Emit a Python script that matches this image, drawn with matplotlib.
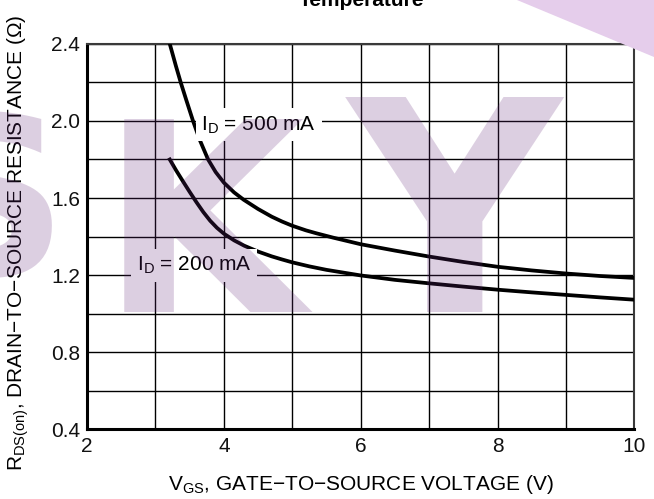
import numpy as np
import matplotlib
matplotlib.use("Agg")
import matplotlib.pyplot as plt
from matplotlib.patches import Polygon

plt.rcParams['font.family'] = ['Liberation Sans', 'DejaVu Sans']
plt.rcParams['mathtext.fontset'] = 'custom'
plt.rcParams['mathtext.rm'] = 'Liberation Sans'

# ---------- values ----------
vgs_500 = [3.21, 3.30, 3.37, 3.45, 3.55, 3.65, 3.77, 3.88, 4.00, 4.15, 4.29, 4.50,
           4.70, 4.85, 5.00, 5.20, 5.35, 5.60, 6.00, 6.50, 7.00, 7.50, 8.00, 8.50,
           9.00, 9.50, 10.0]
rds_500 = [2.400, 2.285, 2.200, 2.110, 2.000, 1.900, 1.800, 1.735, 1.680, 1.629, 1.591, 1.543,
           1.503, 1.478, 1.456, 1.432, 1.417, 1.394, 1.360, 1.327, 1.296, 1.268, 1.243, 1.224,
           1.208, 1.195, 1.185]

vgs_200 = [3.21, 3.30, 3.40, 3.50, 3.60, 3.70, 3.80, 3.90, 4.00, 4.15, 4.30, 4.50,
           4.70, 4.85, 5.00, 5.25, 5.50, 6.00, 6.50, 7.00, 7.50, 8.00, 8.50, 9.00,
           9.50, 10.0]
rds_200 = [1.800, 1.745, 1.688, 1.632, 1.578, 1.527, 1.482, 1.445, 1.415, 1.380, 1.352, 1.322,
           1.297, 1.281, 1.266, 1.245, 1.227, 1.198, 1.175, 1.157, 1.140, 1.124, 1.110, 1.097,
           1.084, 1.072]

x_ticks = [2, 4, 6, 8, 10]
y_ticks = [0.4, 0.8, 1.2, 1.6, 2.0, 2.4]
x_grid = np.arange(2, 10.01, 1.0)
y_grid = np.arange(0.4, 2.41, 0.2)

FS = 15

fig = plt.figure(figsize=(6.54, 4.99), dpi=100)
ax = fig.add_axes([0.133, 0.140, 0.837, 0.772])
ax.set_facecolor('none')

# lilac corner of the watermark (in the margin)
fig.patches.append(Polygon([[0.79, 1.0], [1.0, 1.0], [1.0, 0.885]], closed=True,
                           transform=fig.transFigure, facecolor='#e5cdeb',
                           edgecolor='none', zorder=0))

ax.set_xlim(2, 10)
ax.set_ylim(0.4, 2.4)
ax.set_xticks(x_grid)
ax.set_yticks(y_grid)
ax.set_xticklabels([f'{v:g}' if v in x_ticks else '' for v in x_grid])
ax.set_yticklabels([f'{v:.1f}' if np.isclose(y_ticks, v).any() else '' for v in y_grid])
ax.tick_params(length=0, labelsize=FS, colors='#111111')
ax.tick_params(axis='x', pad=6)
ax.tick_params(axis='y', pad=5)
ax.grid(True, color='black', linewidth=1.0)
ax.set_axisbelow(True)

for s in ['left', 'bottom']:
    ax.spines[s].set_linewidth(2.2)
for s in ['top', 'right']:
    ax.spines[s].set_linewidth(1.5)
    ax.spines[s].set_color('#3a3a3a')

ax.plot(vgs_500, rds_500, color='black', linewidth=2.7, zorder=3)
ax.plot(vgs_200, rds_200, color='black', linewidth=2.7, zorder=3)

ax.text(4.51, 1.98, r'I$_\mathregular{D}$ = 500 mA', fontsize=FS, ha='center', va='center',
        bbox=dict(facecolor='white', edgecolor='none', pad=4), zorder=4)
ax.text(3.57, 1.25, r'I$_\mathregular{D}$ = 200 mA', fontsize=FS, ha='center', va='center',
        bbox=dict(facecolor='white', edgecolor='none', pad=4), zorder=4)

ax.set_xlabel(r'V$_\mathregular{GS}$, GATE−TO−SOURCE VOLTAGE (V)', fontsize=FS, labelpad=12)
ax.set_ylabel(r'R$_\mathregular{DS(on)}$, DRAIN−TO−SOURCE RESISTANCE (Ω)', fontsize=FS)
ax.yaxis.set_label_coords(-0.103, 0.485)

fig.text(0.553, 1 - 6 / 499, 'Temperature', fontsize=FS, fontweight='bold',
         ha='center', va='baseline')

# translucent "SKY" watermark laid over the chart
wm = dict(color=(100/255, 40/255, 120/255), alpha=0.22, fontweight='bold',
          family='DejaVu Sans', va='baseline', ha='left', zorder=10)
fig.text(-92 / 654, (499 - 275) / 499, 'S', fontsize=160, **wm)
fig.text(100 / 654, (499 - 312) / 499, 'K', fontsize=190, **wm)
fig.text(348 / 654, (499 - 312) / 499, 'Y', fontsize=212, **wm)

fig.savefig('out.png', dpi=100)
